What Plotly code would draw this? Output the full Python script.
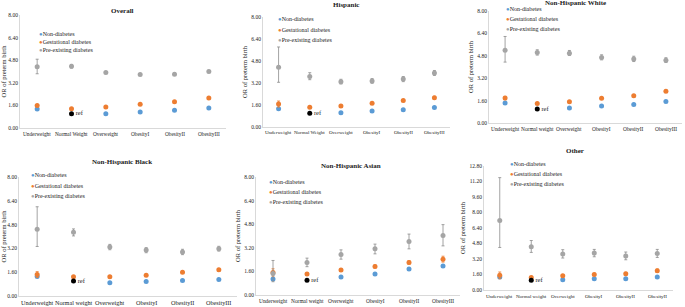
import plotly.graph_objects as go

W, H = 685, 307
FONT = "Liberation Serif"
BLUE, ORANGE, GRAY = "#5B9BD5", "#ED7D31", "#A5A5A5"

categories = ["Underweight", "Normal Weight", "Overweight", "ObesityI", "ObesityII", "ObesityIII"]
categories_lw = ["Underweight", "Normal weight", "Overweight", "ObesityI", "ObesityII", "ObesityIII"]
categories_other = ["Underweight", "Normal weight", "Overweight", "ObesityI", "ObesityII", "ObesityII"]

titles = ["Overall", "Hispanic", "Non-Hispanic White", "Non-Hispanic Black", "Non-Hispanic Asian", "Other"]

# Non-diabetes (Normal weight is the reference, drawn separately)
non_overall = [1.34, None, 1.01, 1.13, 1.25, 1.41]
non_hisp = [1.33, None, 1.04, 1.16, 1.26, 1.41]
non_white = [1.43, None, 1.07, 1.21, 1.33, 1.54]
non_black = [1.31, None, 0.89, 0.98, 1.04, 1.11]
non_asian = [1.08, None, 1.22, 1.42, 1.76, 1.96]
non_other = [1.34, None, 1.06, 1.17, 1.17, 1.34]

# Gestational diabetes
gest_overall = [1.60, 1.36, 1.48, 1.69, 1.86, 2.12]
gest_hisp = [1.67, 1.43, 1.53, 1.72, 1.92, 2.13]
gest_white = [1.78, 1.40, 1.52, 1.76, 1.95, 2.26]
gest_black = [1.44, 1.29, 1.29, 1.40, 1.60, 1.76]
gest_asian = [1.53, 1.42, 1.69, 1.94, 2.21, 2.43]
gest_other = [1.51, 1.30, 1.48, 1.61, 1.68, 1.99]

gest_err_overall = [0.06, 0.03, 0.03, 0.04, 0.05, 0.06]
gest_err_hisp = [0.22, 0.05, 0.05, 0.06, 0.08, 0.10]
gest_err_white = [0.12, 0.04, 0.04, 0.05, 0.06, 0.08]
gest_err_black = [0.20, 0.05, 0.05, 0.06, 0.08, 0.09]
gest_err_asian = [0.25, 0.08, 0.09, 0.10, 0.12, 0.20]
gest_err_other = [0.35, 0.10, 0.12, 0.12, 0.14, 0.18]

# Pre-existing diabetes with CI
pre_overall = [4.33, 4.38, 3.93, 3.79, 3.81, 4.00]
pre_hi_overall = [4.87, 4.50, 4.00, 3.86, 3.89, 4.08]
pre_lo_overall = [3.84, 4.24, 3.85, 3.71, 3.73, 3.92]

pre_hisp = [4.34, 3.68, 3.30, 3.35, 3.49, 3.93]
pre_hi_hisp = [5.82, 3.95, 3.47, 3.52, 3.67, 4.11]
pre_lo_hisp = [3.25, 3.44, 3.13, 3.18, 3.30, 3.75]

pre_white = [5.20, 5.04, 4.99, 4.68, 4.58, 4.49]
pre_hi_white = [6.18, 5.23, 5.18, 4.87, 4.77, 4.66]
pre_lo_white = [4.35, 4.85, 4.82, 4.51, 4.39, 4.32]

pre_black = [4.49, 4.29, 3.29, 3.09, 2.96, 3.18]
pre_hi_black = [6.00, 4.51, 3.47, 3.25, 3.14, 3.34]
pre_lo_black = [3.33, 4.04, 3.11, 2.91, 2.78, 3.02]

pre_asian = [1.46, 2.21, 2.75, 3.13, 3.63, 4.03]
pre_hi_asian = [2.34, 2.50, 3.06, 3.45, 4.13, 4.77]
pre_lo_asian = [0.90, 1.92, 2.43, 2.79, 3.13, 3.33]

pre_other = [7.17, 4.46, 3.71, 3.81, 3.50, 3.77]
pre_hi_other = [11.60, 5.11, 4.16, 4.19, 3.92, 4.19]
pre_lo_other = [4.39, 3.88, 3.30, 3.43, 3.12, 3.36]

ref_value = [1.0]
ref_label = ["ref"]

y_max = [8.0, 8.0, 8.0, 8.0, 8.0, 12.8]

panels = [
    (categories, non_overall, gest_overall, gest_err_overall, pre_overall, pre_hi_overall, pre_lo_overall),
    (categories, non_hisp, gest_hisp, gest_err_hisp, pre_hisp, pre_hi_hisp, pre_lo_hisp),
    (categories_lw, non_white, gest_white, gest_err_white, pre_white, pre_hi_white, pre_lo_white),
    (categories_lw, non_black, gest_black, gest_err_black, pre_black, pre_hi_black, pre_lo_black),
    (categories_lw, non_asian, gest_asian, gest_err_asian, pre_asian, pre_hi_asian, pre_lo_asian),
    (categories_other, non_other, gest_other, gest_err_other, pre_other, pre_hi_other, pre_lo_other),
]

# layout geometry in pixels: (x0, x1, ytop, ybottom)
boxes = [
    (20, 226, 15, 128),
    (263, 450, 17, 127),
    (489, 682, 11, 123),
    (19, 237, 177, 296),
    (256, 460, 177, 295),
    (484, 673, 166, 290),
]
label_gap = [5.5, 5.5, 5.5, 6.5, 5.5, 6.5]
title_pos = [(122, 11), (346, 5), (575, 3), (122, 162), (351, 166), (575, 151)]
legend_pos = [(37, 34, 8), (276, 19, 10.7), (504, 9, 10), (29, 175, 10.5), (267, 182, 10), (508, 164, 10)]
tick_size = [5.3, 5.0, 5.4, 6.2, 5.4, 5.0]

def px(x):
    return x / W

def py(y):
    return 1 - y / H

fig = go.Figure()
layout = {}
annotations = []

for i, (cats, non, gest, gerr, pre, phi, plo) in enumerate(panels):
    n = i + 1
    xa = "x" if n == 1 else f"x{n}"
    ya = "y" if n == 1 else f"y{n}"
    idx = list(range(len(cats)))
    fig.add_trace(go.Scatter(
        x=idx, y=non, mode="markers", xaxis=xa, yaxis=ya,
        marker=dict(color=BLUE, size=5), showlegend=False, name="Non-diabetes"))
    fig.add_trace(go.Scatter(
        x=idx, y=gest, mode="markers", xaxis=xa, yaxis=ya,
        marker=dict(color=ORANGE, size=5),
        error_y=dict(type="data", array=gerr, color=ORANGE, thickness=0.8, width=1.5),
        showlegend=False, name="Gestational diabetes"))
    fig.add_trace(go.Scatter(
        x=idx, y=pre, mode="markers", xaxis=xa, yaxis=ya,
        marker=dict(color=GRAY, size=5),
        error_y=dict(type="data", symmetric=False,
                     array=[h - v for h, v in zip(phi, pre)],
                     arrayminus=[v - l for v, l in zip(pre, plo)],
                     color="#8C8C8C", thickness=0.8, width=1.5),
        showlegend=False, name="Pre-existing diabetes"))
    fig.add_trace(go.Scatter(
        x=[1], y=ref_value, mode="markers+text", xaxis=xa, yaxis=ya,
        text=ref_label, textposition="middle right",
        textfont=dict(family=FONT, size=6.5, color="#222"),
        marker=dict(color="black", size=5), showlegend=False, name="ref"))

    x0, x1, yt, yb = boxes[i]
    key = "" if n == 1 else str(n)
    layout[f"xaxis{key}"] = dict(
        domain=[px(x0), px(x1)], anchor=ya, range=[-0.5, len(cats) - 0.5],
        tickmode="array", tickvals=idx, showticklabels=False, automargin=False,
        showline=True, linecolor="#D9D9D9", linewidth=1, showgrid=False,
        zeroline=False, ticks="")
    layout[f"yaxis{key}"] = dict(
        domain=[py(yb), py(yt)], anchor=xa, range=[0, y_max[i]], automargin=False,
        tick0=0, dtick=1.6, tickformat=".2f",
        showline=True, linecolor="#D9D9D9", linewidth=1, showgrid=False,
        zeroline=False, ticks="",
        tickfont=dict(family=FONT, size=5.5, color="#222"),
        title=dict(text="OR of preterm birth", standoff=3,
                   font=dict(family=FONT, size=6.5, color="#222")))

    # category labels under each axis, placed through the x axis scale
    for k, c in zip(idx, cats):
        annotations.append(dict(
            x=k, xref=xa, y=py(yb + label_gap[i]), yref="paper", showarrow=False,
            text=c, font=dict(family=FONT, size=tick_size[i], color="#222"),
            xanchor="center", yanchor="middle"))

    tx, ty = title_pos[i]
    annotations.append(dict(
        x=px(tx), y=py(ty), xref="paper", yref="paper", showarrow=False,
        text=f"<b>{titles[i]}</b>", font=dict(family=FONT, size=7, color="#222"),
        xanchor="center", yanchor="middle"))

    lx, ly, dy = legend_pos[i]
    for j, (col, lab) in enumerate([(BLUE, "Non-diabetes"), (ORANGE, "Gestational diabetes"),
                                     (GRAY, "Pre-existing diabetes")]):
        annotations.append(dict(
            x=px(lx), y=py(ly + j * dy), xref="paper", yref="paper", showarrow=False,
            text=f"<span style='color:{col}'>●</span>{lab}",
            font=dict(family=FONT, size=6, color="#222"),
            xanchor="left", yanchor="middle"))

fig.update_layout(
    width=W, height=H, margin=dict(l=0, r=0, t=0, b=0),
    paper_bgcolor="white", plot_bgcolor="white",
    annotations=annotations, **layout)

fig.write_html("out.html", config={"displayModeBar": False},
               post_script="document.body.style.margin='0px';")
